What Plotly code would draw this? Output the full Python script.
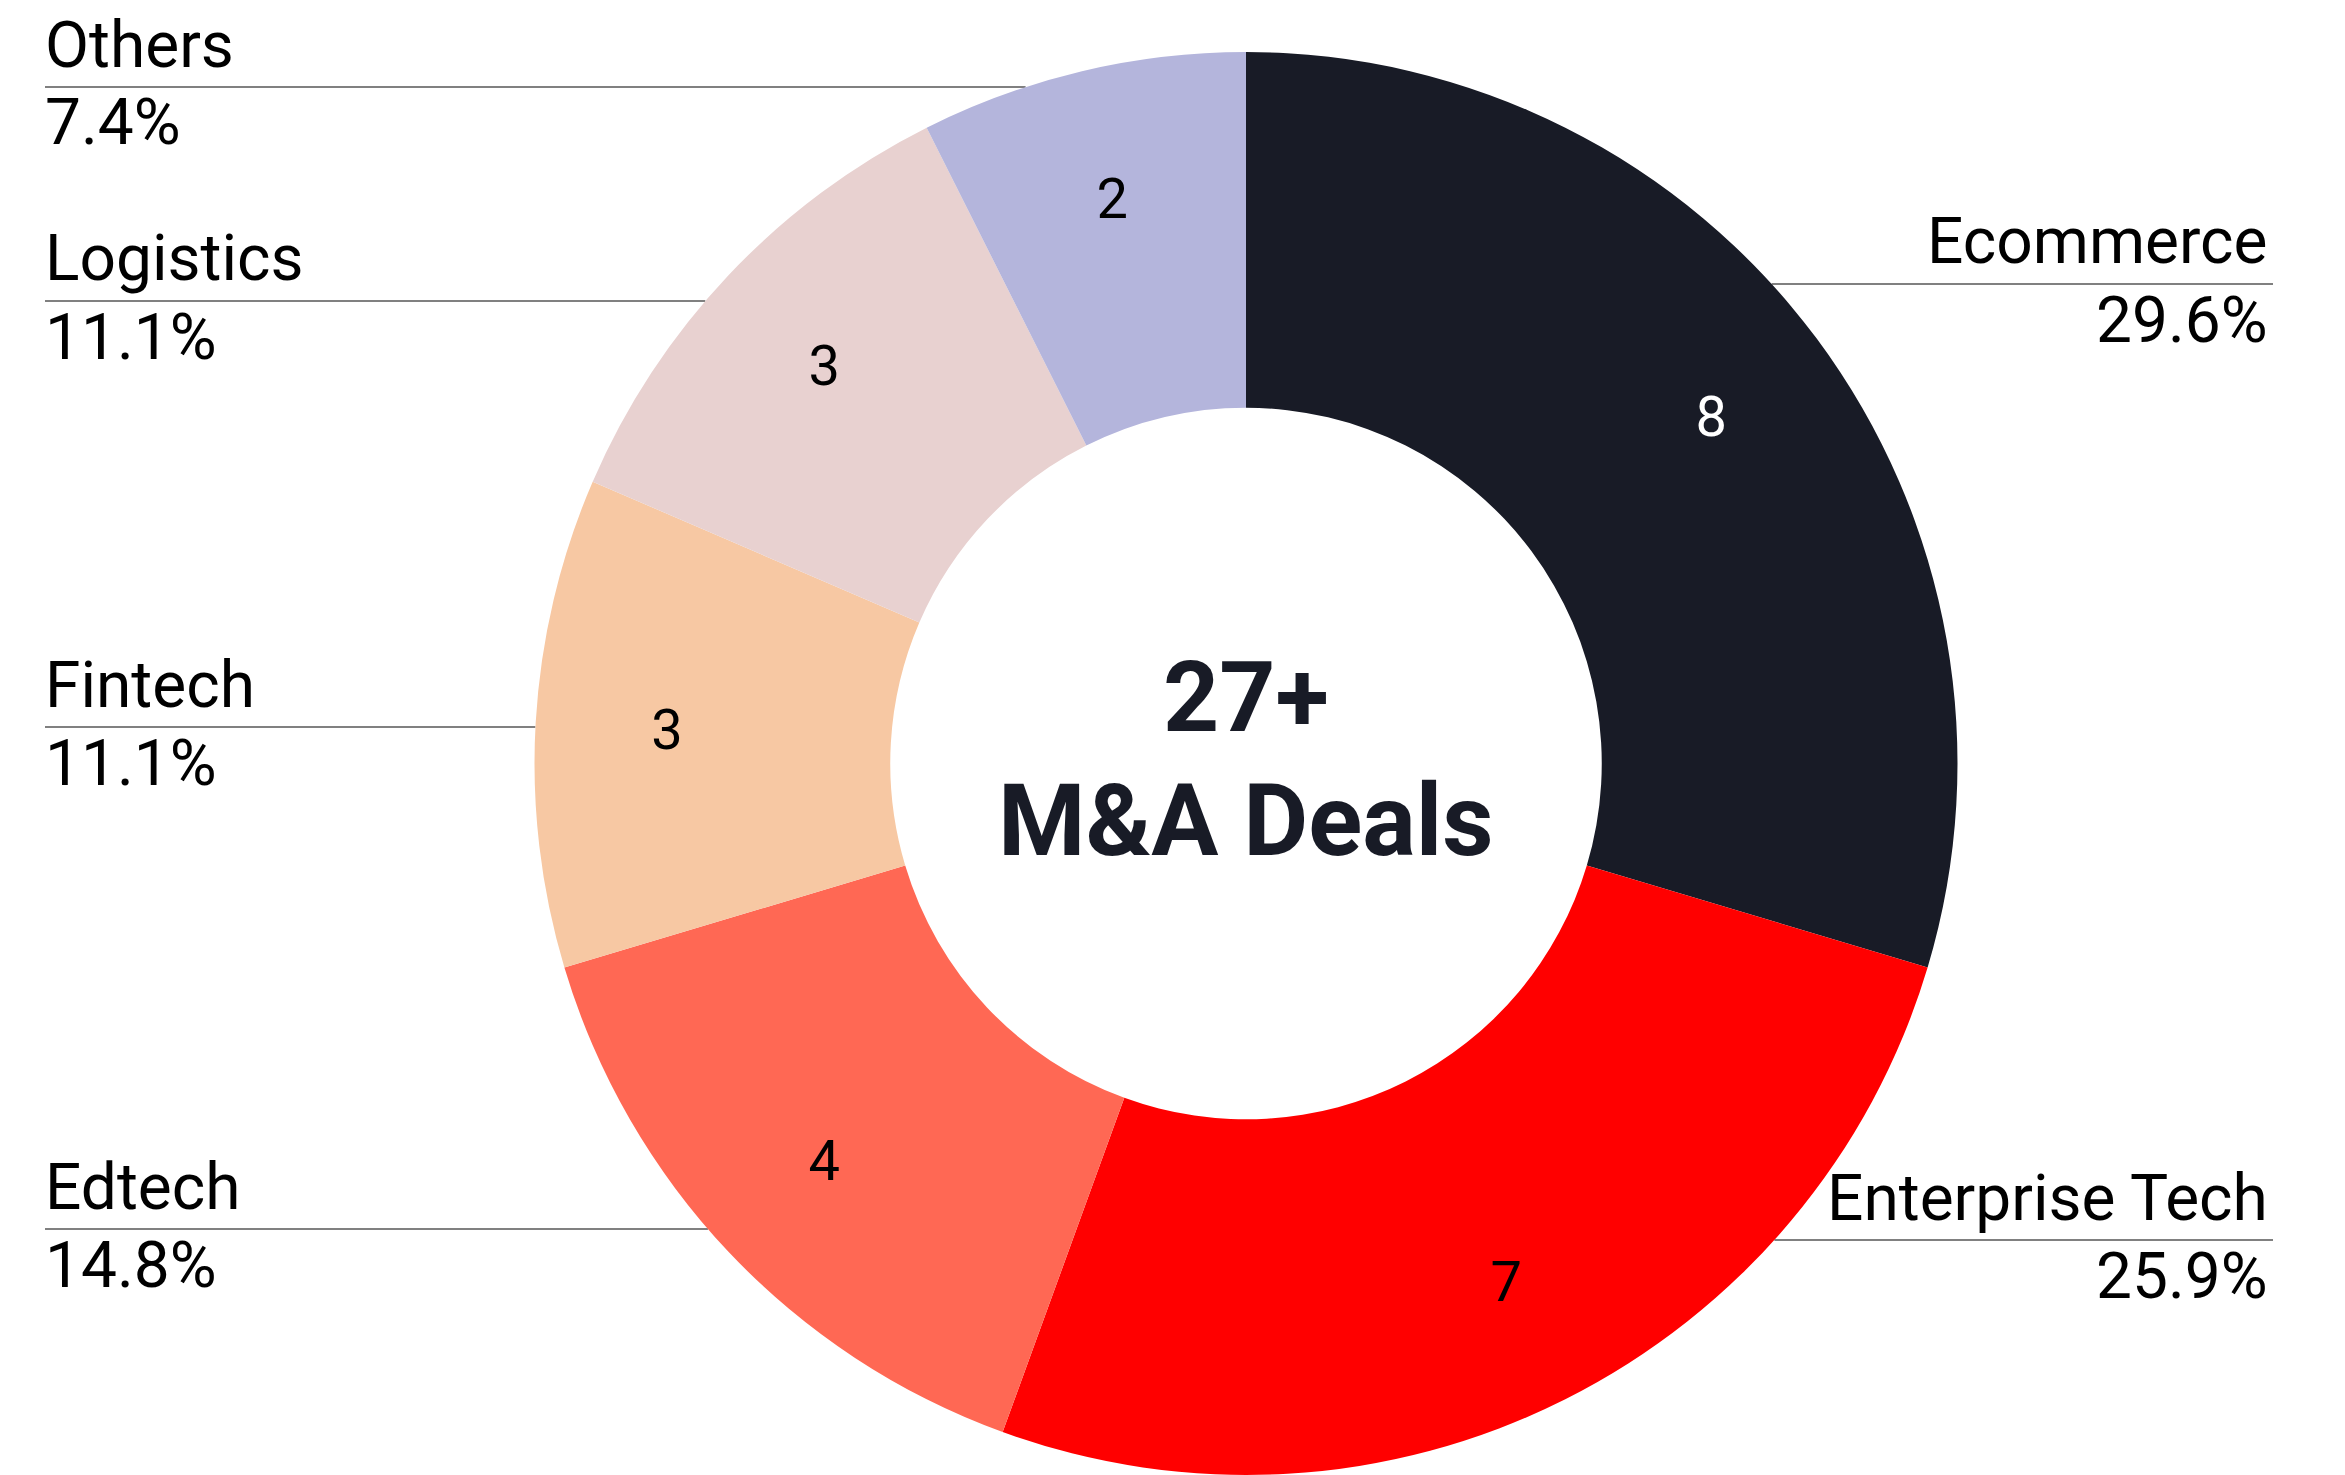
import math
import plotly.graph_objects as go

# ---- data ----
categories = ["Ecommerce", "Enterprise Tech", "Edtech", "Fintech", "Logistics", "Others"]
deals = [8, 7, 4, 3, 3, 2]
colors = ["#181b26", "#ff0000", "#ff6854", "#f7c8a3", "#e8d1d0", "#b4b5dc"]
number_colors = ["#ffffff", "#000000", "#000000", "#000000", "#000000", "#000000"]
center_title = "27+"
center_subtitle = "M&A Deals"

# ---- layout geometry (page pixels) ----
W, H = 2345, 1475
OFF = 8  # default body margin of the html page
R = 711.5
CX, CY = 1246.0, 1475 - R
label_side = {"Ecommerce": "right", "Enterprise Tech": "right", "Edtech": "left",
              "Fintech": "left", "Logistics": "left", "Others": "left"}
label_line_y = {"Ecommerce": 284, "Enterprise Tech": 1240, "Edtech": 1229,
                "Fintech": 727, "Logistics": 301, "Others": 87}
LEFT_X, RIGHT_X = 45, 2273
FONT = "Roboto, 'Liberation Sans', Arial, sans-serif"
LABEL_SIZE = 64


def px(x):
    return (x - OFF) / W


def py(y):
    return 1 - (y - OFF) / H


domain = dict(x=[px(CX - R), px(CX + R)], y=[py(CY + R), py(CY - R)])

fig = go.Figure()
fig.add_trace(go.Pie(
    labels=categories, values=deals, sort=False, direction="clockwise", rotation=0,
    hole=0.5, marker=dict(colors=colors, line=dict(width=0)),
    textinfo="none", showlegend=False, domain=domain, hoverinfo="label+value",
))
# transparent ring used only to place the value labels further out in the band
fig.add_trace(go.Pie(
    labels=categories, values=deals, sort=False, direction="clockwise", rotation=0,
    hole=0.63, marker=dict(colors=["rgba(0,0,0,0)"] * len(deals), line=dict(width=0)),
    textinfo="value", textposition="inside", insidetextorientation="horizontal",
    insidetextfont=dict(family=FONT, size=56, color=number_colors),
    showlegend=False, domain=domain, hoverinfo="skip",
))

total = sum(deals)
shapes = []
annotations = []
for cat, v in zip(categories, deals):
    ly = label_line_y[cat]
    dx = math.sqrt(max(R * R - (ly - CY) ** 2, 0))
    pct = f"{v / total * 100:.1f}%"
    if label_side[cat] == "left":
        x0, x1 = LEFT_X, CX - dx
        ax, xanchor = LEFT_X - 2, "left"
    else:
        x0, x1 = CX + dx, RIGHT_X
        ax, xanchor = RIGHT_X - 3, "right"
    shapes.append(dict(type="line", xref="paper", yref="paper",
                       x0=px(x0), x1=px(x1), y0=py(ly), y1=py(ly),
                       line=dict(color="#808080", width=2.2), layer="below"))
    annotations.append(dict(text=cat, x=px(ax), y=py(ly - 42), xref="paper", yref="paper",
                            xanchor=xanchor, yanchor="middle", showarrow=False,
                            font=dict(family=FONT, size=LABEL_SIZE, color="#000000")))
    annotations.append(dict(text=pct, x=px(ax), y=py(ly + 36), xref="paper", yref="paper",
                            xanchor=xanchor, yanchor="middle", showarrow=False,
                            font=dict(family=FONT, size=LABEL_SIZE, color="#000000")))

annotations.append(dict(text=f"<b>{center_title}</b>", x=px(CX), y=py(698), xref="paper", yref="paper",
                        xanchor="center", yanchor="middle", showarrow=False,
                        font=dict(family=FONT, size=98, color="#181b26")))
annotations.append(dict(text=f"<b>{center_subtitle}</b>", x=px(CX), y=py(820), xref="paper", yref="paper",
                        xanchor="center", yanchor="middle", showarrow=False,
                        font=dict(family=FONT, size=100, color="#181b26")))

fig.update_layout(
    width=W, height=H,
    margin=dict(l=0, r=0, t=0, b=0),
    paper_bgcolor="#ffffff",
    plot_bgcolor="#ffffff",
    shapes=shapes,
    annotations=annotations,
)

fig.write_html("out.html")
